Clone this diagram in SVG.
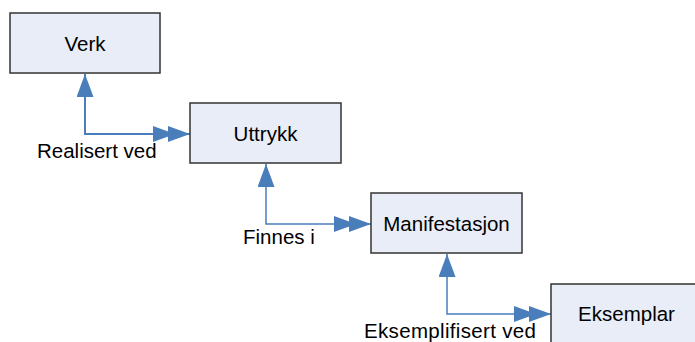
<svg xmlns="http://www.w3.org/2000/svg" width="695" height="342" viewBox="0 0 695 342">
  <style>
    .box { fill: #e8edf7; stroke: #333333; stroke-width: 1.5; }
    .name { font-family: "Liberation Sans", Arial, sans-serif; font-size: 20.5px; fill: #000000; text-anchor: middle; }
    .lbl { font-family: "Liberation Sans", Arial, sans-serif; font-size: 20.5px; fill: #000000; }
    .link { fill: none; stroke: #4a7ebb; stroke-width: 2; marker-start: url(#head); marker-end: url(#double); }
    .thin { stroke-width: 1.5; }
  </style>
  <defs>
    <marker id="head" markerUnits="userSpaceOnUse" viewBox="0 0 23 17" markerWidth="23" markerHeight="17" refX="23" refY="8.5" orient="auto-start-reverse">
      <path d="M0,0 L23,8.5 L0,17 Z" fill="#4a7ebb"/>
    </marker>
    <marker id="double" markerUnits="userSpaceOnUse" viewBox="0 0 37 16" markerWidth="37" markerHeight="16" refX="37" refY="8" orient="auto">
      <path d="M0,0 L22,8 L0,16 Z M15,0 L37,8 L15,16 Z" fill="#4a7ebb"/>
    </marker>
  </defs>

  <g id="connectors">
    <path class="link" d="M85,74 V134 H190"/>
    <path class="link thin" d="M266,164 V224 H371"/>
    <path class="link thin" d="M447,254 V314 H551"/>
  </g>

  <g id="verk">
    <rect class="box" x="10" y="13" width="150" height="60"/>
    <text class="name" x="85" y="51">Verk</text>
  </g>
  <g id="uttrykk">
    <rect class="box" x="190" y="103" width="151" height="60"/>
    <text class="name" x="265.5" y="141">Uttrykk</text>
  </g>
  <g id="manifestasjon">
    <rect class="box" x="371" y="193" width="151" height="60"/>
    <text class="name" x="446.5" y="231">Manifestasjon</text>
  </g>
  <g id="eksemplar">
    <rect class="box" x="551" y="284" width="151" height="60"/>
    <text class="name" x="626.5" y="321">Eksemplar</text>
  </g>

  <g id="labels">
    <text class="lbl" x="37" y="158">Realisert ved</text>
    <text class="lbl" x="243" y="244">Finnes i</text>
    <text class="lbl" x="364" y="338" textLength="172">Eksemplifisert ved</text>
  </g>
</svg>
